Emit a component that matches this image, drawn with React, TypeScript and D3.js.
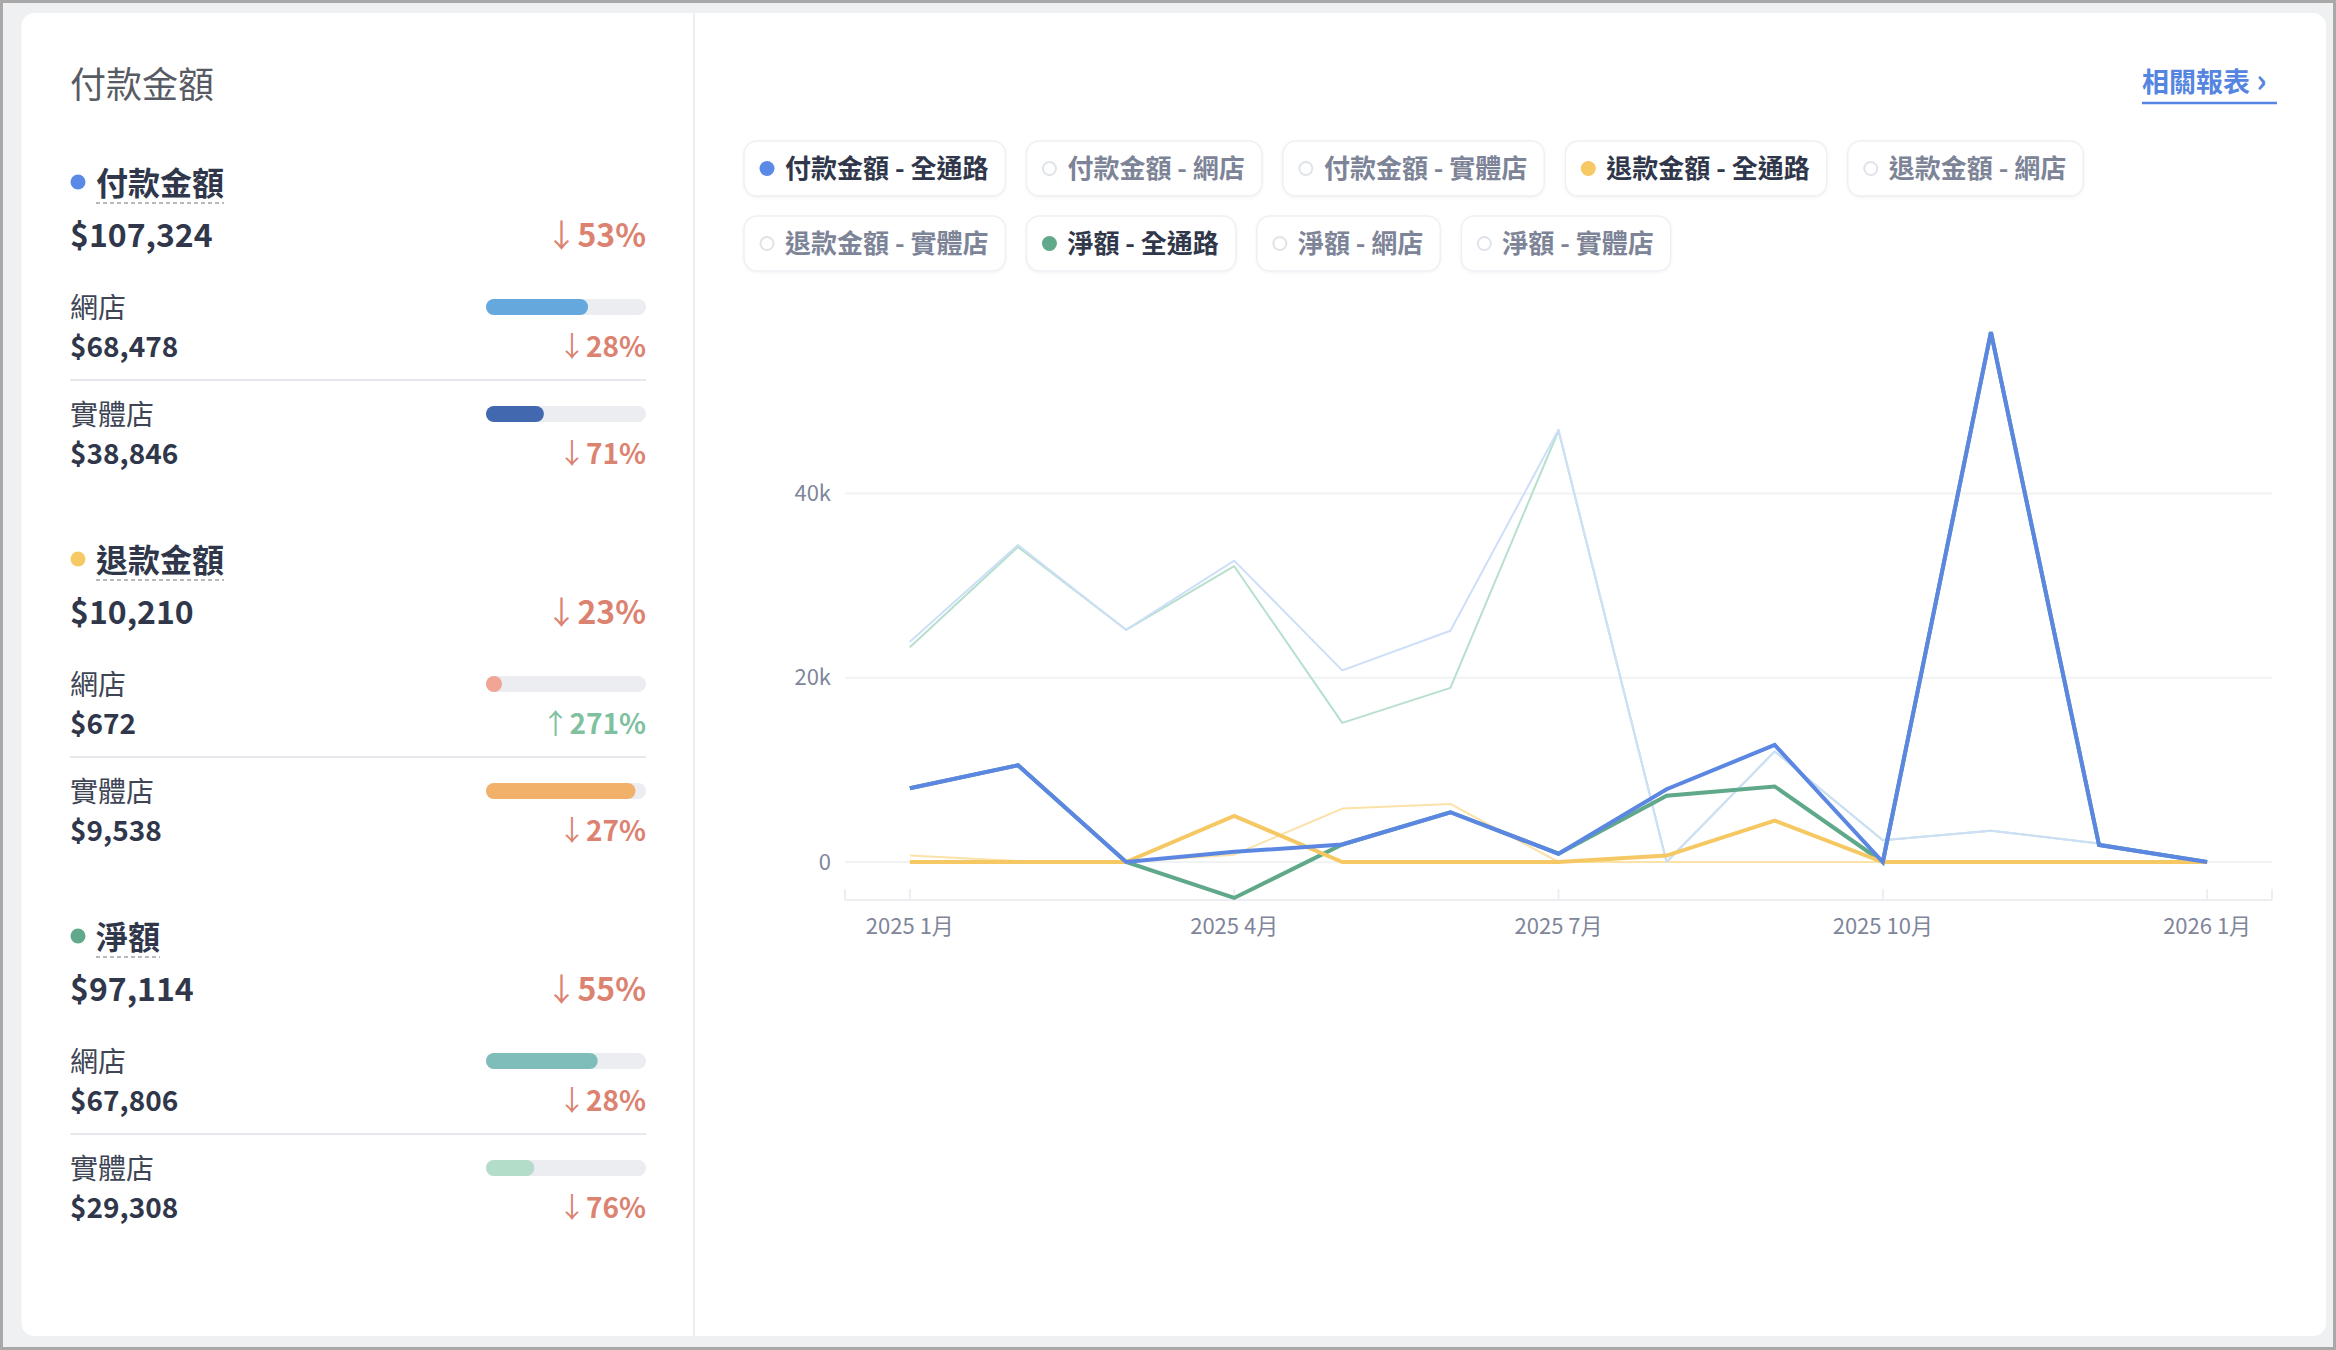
import React, { useEffect, useRef } from 'react';
import * as d3 from 'd3';

// ---------- data ----------
const months = ['2025-01', '2025-02', '2025-03', '2025-04', '2025-05', '2025-06', '2025-07', '2025-08', '2025-09', '2025-10', '2025-11', '2025-12', '2026-01'];
const xTickMonths = ['2025-01', '2025-04', '2025-07', '2025-10', '2026-01'];
const xTickLabels = ['2025 1月', '2025 4月', '2025 7月', '2025 10月', '2026 1月'];
const yTicks = [0, 20000, 40000];
const yTickLabels = ['0', '20k', '40k'];

// current period (全通路)
const payAll = [8000, 10500, 0, 1100, 1900, 5400, 900, 7900, 12700, 0, 57500, 1840, 0];
const refundAll = [0, 0, 0, 5000, 0, 0, 0, 700, 4500, 0, 0, 0, 0];
const netAll = [8000, 10500, 0, -3900, 1900, 5400, 900, 7200, 8200, 0, 57500, 1840, 0];
// comparison period
const payPrev = [23900, 34400, 25200, 32700, 20800, 25100, 46900, 0, 12000, 2350, 3400, 2000, 0];
const refundPrev = [700, 100, 0, 800, 5800, 6300, 0, 0, 0, 0, 0, 0, 0];
const netPrev = [23300, 34200, 25200, 32100, 15100, 18900, 46800, 0, 12000, 2350, 3400, 2000, 0];

const legendItems = ['付款金額 - 全通路', '付款金額 - 網店', '付款金額 - 實體店', '退款金額 - 全通路', '退款金額 - 網店', '退款金額 - 實體店', '淨額 - 全通路', '淨額 - 網店', '淨額 - 實體店'];
const legendActive = [true, false, false, true, false, false, true, false, false];
const legendColors = ['#5b8ae6', '', '', '#f6c965', '', '', '#62a98b', '', ''];

const groupNames = ['付款金額', '退款金額', '淨額'];
const groupDots = ['#5b8ae6', '#f6c965', '#62a98b'];
const groupTotals = [107324, 10210, 97114];
const groupTotalChange = [-53, -23, -55];
const onlineValues = [68478, 672, 67806];
const onlineChange = [-28, 271, -28];
const storeValues = [38846, 9538, 29308];
const storeChange = [-71, -27, -76];
const onlineBarColors = ['#64a8de', '#f1a596', '#7fbdbb'];
const storeBarColors = ['#4268b0', '#f2b16a', '#b3dcc9'];

// ---------- style ----------
const FONT = "'Noto Sans CJK TC', 'Noto Sans', sans-serif";
const DARK = '#30374a';
const RED = '#dc8270';
const GREEN = '#7fc19f';
const AXIS = '#7f869a';

const fmt = d3.format(',');

function Change({ x, y, v, size }: { x: number; y: number; v: number; size: number }) {
  const up = v > 0;
  return (
    <text x={x} y={y} textAnchor="end" fontSize={size} fontWeight={700} fill={up ? GREEN : RED} fontFamily={FONT}>
      <tspan fontWeight={400}>{up ? '↑' : '↓'}</tspan>
      <tspan>{Math.abs(v)}%</tspan>
    </text>
  );
}

export default function App() {
  const legendRef = useRef<SVGGElement>(null);

  const x = d3.scalePoint<string>().domain(months).range([845, 2272]).padding(0.6);
  const y = d3.scaleLinear().domain([0, 40000]).range([862, 493.4]);
  const line = d3
    .line<number>()
    .x((_, i) => x(months[i]) as number)
    .y((d) => y(d));

  useEffect(() => {
    const g = d3.select(legendRef.current);
    g.selectAll('*').remove();
    let cx = 744;
    let row = 0;
    legendItems.forEach((name, i) => {
      const grp = g.append('g');
      const t = grp
        .append('text')
        .text(name)
        .attr('font-size', 26)
        .attr('font-family', FONT)
        .attr('font-weight', legendActive[i] ? 700 : 600)
        .attr('fill', legendActive[i] ? DARK : '#7d8497');
      const tw = (t.node() as SVGTextElement).getComputedTextLength();
      const w = tw + 58;
      if (cx + w > 2290) {
        row += 1;
        cx = 744;
      }
      const y0 = 141 + row * 75;
      grp
        .insert('rect', 'text')
        .attr('x', cx)
        .attr('y', y0)
        .attr('width', w)
        .attr('height', 55)
        .attr('rx', 13)
        .attr('fill', '#ffffff')
        .attr('stroke', '#eef0f3')
        .attr('stroke-width', 1.5)
        .attr('filter', 'url(#chipShadow)');
      t.attr('x', cx + 41).attr('y', y0 + 27.5).attr('dy', '0.36em');
      if (legendActive[i]) {
        grp.append('circle').attr('cx', cx + 23).attr('cy', y0 + 27.5).attr('r', 7.5).attr('fill', legendColors[i]);
      } else {
        grp
          .append('circle')
          .attr('cx', cx + 23)
          .attr('cy', y0 + 27.5)
          .attr('r', 6.5)
          .attr('fill', 'none')
          .attr('stroke', '#dfe3ea')
          .attr('stroke-width', 2);
      }
      cx += w + 21;
    });
  }, []);

  const sections = groupNames.map((name, i) => {
    const b = 182 + 377 * i;
    const labelW = name.length * 32;
    const onlineW = Math.max(16, (onlineValues[i] / groupTotals[i]) * 160);
    const storeW = Math.max(16, (storeValues[i] / groupTotals[i]) * 160);
    return (
      <g key={name} fontFamily={FONT}>
        <circle cx={78} cy={b} r={7.5} fill={groupDots[i]} />
        <text x={96} y={b + 13} fontSize={32} fontWeight={700} fill={DARK}>
          {name}
        </text>
        <line x1={96} x2={96 + labelW} y1={b + 21} y2={b + 21} stroke="#a0a3aa" strokeWidth={1.5} strokeDasharray="4 3" />
        <text x={70} y={b + 65} fontSize={32} fontWeight={700} fill={DARK}>
          ${fmt(groupTotals[i])}
        </text>
        <Change x={646} y={b + 65} v={groupTotalChange[i]} size={32} />

        <text x={70} y={b + 136} fontSize={28} fill="#3e4555">網店</text>
        <rect x={486} y={b + 117} width={160} height={16} rx={8} fill="#ebedf0" />
        <rect x={486} y={b + 117} width={onlineW} height={16} rx={8} fill={onlineBarColors[i]} />
        <text x={70} y={b + 175} fontSize={28} fontWeight={700} fill={DARK}>
          ${fmt(onlineValues[i])}
        </text>
        <Change x={646} y={b + 175} v={onlineChange[i]} size={28} />

        <line x1={70} x2={646} y1={b + 198} y2={b + 198} stroke="#e5e8ed" strokeWidth={2} />

        <text x={70} y={b + 243} fontSize={28} fill="#3e4555">實體店</text>
        <rect x={486} y={b + 224} width={160} height={16} rx={8} fill="#ebedf0" />
        <rect x={486} y={b + 224} width={storeW} height={16} rx={8} fill={storeBarColors[i]} />
        <text x={70} y={b + 282} fontSize={28} fontWeight={700} fill={DARK}>
          ${fmt(storeValues[i])}
        </text>
        <Change x={646} y={b + 282} v={storeChange[i]} size={28} />
      </g>
    );
  });

  const faint = [
    { data: netPrev, color: '#b7e0cc', w: 2 },
    { data: refundPrev, color: '#fbe2a8', w: 2 },
    { data: payPrev, color: '#cddff8', w: 2 },
  ];
  const thick = [
    { data: netAll, color: '#5fa88a', w: 4 },
    { data: refundAll, color: '#f6c863', w: 4 },
    { data: payAll, color: '#5b87e3', w: 4 },
  ];

  return (
    <div style={{ position: 'absolute', left: 0, top: 0, width: 2336, height: 1350 }}>
      <svg width={2336} height={1350} style={{ display: 'block' }}>
        <defs>
          <filter id="chipShadow" x="-10%" y="-30%" width="120%" height="160%">
            <feDropShadow dx={0} dy={1} stdDeviation={1.5} floodColor="#000" floodOpacity={0.05} />
          </filter>
        </defs>
        <rect x={0} y={0} width={2336} height={1350} fill="#a9a9a9" />
        <rect x={3} y={3} width={2330} height={1344} fill="#eff0f2" />
        <rect x={21.5} y={13} width={2304.5} height={1323} rx={13} fill="#ffffff" />
        <line x1={694} x2={694} y1={13} y2={1336} stroke="#eceef1" strokeWidth={2} />

        <text x={70} y={98} fontSize={36} fill="#575b63" fontFamily={FONT}>
          付款金額
        </text>
        {sections}

        {/* related report link */}
        <text x={2142} y={92} fontSize={27} fontWeight={700} fill="#5585e0" fontFamily={FONT}>
          相關報表 <tspan fontSize={32}>›</tspan>
        </text>
        <line x1={2142} x2={2277} y1={103} y2={103} stroke="#5585e0" strokeWidth={2.5} />

        <g ref={legendRef} />

        {/* grid */}
        {yTicks.map((t, i) => (
          <g key={t}>
            <line x1={845} x2={2272} y1={y(t)} y2={y(t)} stroke="#f1f2f4" strokeWidth={2} />
            <text x={831} y={y(t)} dy="0.35em" textAnchor="end" fontSize={22} fill={AXIS} fontFamily={FONT}>
              {yTickLabels[i]}
            </text>
          </g>
        ))}
        {/* x axis */}
        <line x1={845} x2={2272} y1={900} y2={900} stroke="#eceef1" strokeWidth={2} />
        {[845, 2272].map((px) => (
          <line key={px} x1={px} x2={px} y1={889} y2={900} stroke="#eceef1" strokeWidth={2} />
        ))}
        {xTickMonths.map((m, i) => (
          <g key={m}>
            <line x1={x(m)} x2={x(m)} y1={889} y2={900} stroke="#eceef1" strokeWidth={2} />
            <text x={x(m)} y={934} textAnchor="middle" fontSize={22} fill={AXIS} fontFamily={FONT}>
              {xTickLabels[i]}
            </text>
          </g>
        ))}

        {faint.map((s, i) => (
          <path key={'f' + i} d={line(s.data) || ''} fill="none" stroke={s.color} strokeWidth={s.w} strokeLinejoin="round" />
        ))}
        {thick.map((s, i) => (
          <path key={'t' + i} d={line(s.data) || ''} fill="none" stroke={s.color} strokeWidth={s.w} strokeLinejoin="miter" />
        ))}
      </svg>
    </div>
  );
}
